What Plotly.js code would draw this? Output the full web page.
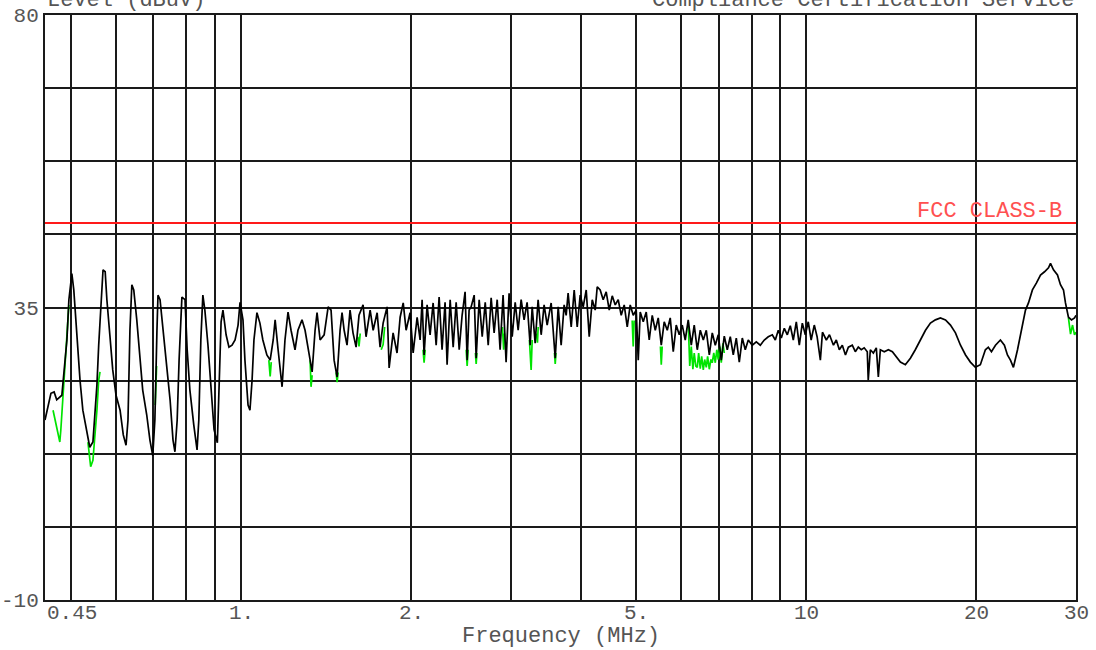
<!DOCTYPE html>
<html>
<head>
<meta charset="utf-8">
<script src="https://cdn.plot.ly/plotly-3.0.1.min.js"></script>
<style>
  html, body { margin: 0; padding: 0; background: #fff; }
  #chart { width: 1096px; height: 650px; }
</style>
</head>
<body>
<div id="chart"></div>
<script>
// Conducted emission scan, 0.45 - 30 MHz (black: main sweep, green: second sweep)
const scanFreq = [
  0.450,0.455,0.461,0.467,0.472,0.482,0.486,0.492,0.496,0.500,0.502,0.506,0.510,0.514,0.519,0.525,0.532,0.536,0.540,0.547,
  0.551,0.556,0.560,0.565,0.570,0.575,0.579,0.586,0.593,0.601,0.611,0.619,0.626,0.631,0.636,0.641,0.646,0.654,0.662,0.670,
  0.681,0.690,0.698,0.704,0.710,0.713,0.719,0.728,0.737,0.749,0.758,0.764,0.771,0.777,0.786,0.796,0.803,0.812,0.825,0.836,
  0.842,0.849,0.856,0.863,0.874,0.886,0.896,0.908,0.915,0.922,0.929,0.941,0.952,0.964,0.976,0.988,0.996,1.008,1.016,1.029,
  1.037,1.046,1.054,1.067,1.080,1.093,1.111,1.126,1.140,1.149,1.163,1.182,1.196,1.211,1.226,1.246,1.261,1.282,1.298,1.314,
  1.336,1.352,1.363,1.380,1.403,1.426,1.443,1.461,1.479,1.497,1.509,1.522,1.540,1.559,1.578,1.598,1.617,1.644,1.664,1.692,
  1.713,1.741,1.762,1.784,1.813,1.828,1.858,1.888,1.912,1.936,1.959,1.991,2.016,2.049,2.074,2.091,2.108,2.134,2.160,2.187,
  2.214,2.241,2.268,2.296,2.315,2.344,2.373,2.402,2.432,2.461,2.491,2.512,2.532,2.553,2.585,2.606,2.638,2.671,2.704,2.737,
  2.770,2.804,2.839,2.873,2.908,2.944,2.980,3.018,3.055,3.092,3.130,3.168,3.207,3.247,3.274,3.314,3.354,3.396,3.437,3.480,
  3.537,3.596,3.640,3.684,3.729,3.760,3.790,3.838,3.885,3.933,3.981,4.030,4.080,4.130,4.181,4.232,4.267,4.319,4.372,4.426,
  4.481,4.536,4.592,4.648,4.705,4.763,4.822,4.881,4.941,5.002,5.043,5.084,5.147,5.210,5.274,5.339,5.405,5.471,5.539,5.606,
  5.676,5.745,5.816,5.887,5.960,6.033,6.107,6.182,6.259,6.335,6.414,6.493,6.573,6.654,6.736,6.818,6.902,6.987,7.073,7.160,
  7.248,7.337,7.427,7.519,7.611,7.705,7.799,7.895,8.025,8.157,8.291,8.427,8.565,8.707,8.814,8.922,9.032,9.143,9.256,9.369,
  9.484,9.601,9.719,9.839,9.960,10.08,10.20,10.33,10.45,10.59,10.68,10.85,10.99,11.17,11.30,11.44,11.58,11.73,11.87,12.06,
  12.21,12.36,12.51,12.66,12.82,12.87,12.98,13.14,13.30,13.41,13.52,13.74,13.97,14.20,14.43,14.67,14.97,15.28,15.59,15.92,
  16.25,16.58,16.92,17.27,17.63,17.99,18.36,18.74,19.13,19.51,19.91,20.32,20.74,20.99,21.26,21.61,22.05,22.41,22.69,22.97,
  23.25,23.64,24.03,24.42,24.72,25.12,25.54,25.96,26.39,26.82,27.04,27.37,27.82,28.16,28.51,28.74,29.09,29.46,29.82,30.00
];
const scanLevel = [
  17.7,19.5,21.8,22.0,20.8,21.5,25.4,30.0,36.2,39.2,40.2,37.7,33.1,29.2,23.8,19.2,16.2,14.6,13.5,14.3,
  17.7,23.1,29.2,36.2,40.8,40.5,36.2,30.8,25.4,21.5,19.2,15.4,13.8,17.7,31.5,38.5,37.7,33.1,27.7,22.3,
  18.5,14.6,12.2,17.7,31.5,36.9,36.2,31.5,26.9,20.8,14.6,12.8,17.7,26.9,36.6,36.2,28.5,22.3,16.9,13.1,
  17.7,30.0,36.9,34.6,29.2,22.3,16.2,14.2,23.8,32.8,34.6,30.8,28.9,29.2,30.0,32.3,35.8,33.1,26.9,20.0,
  19.2,23.8,30.0,34.2,32.6,30.0,27.7,26.9,30.0,33.1,28.5,22.8,30.0,34.3,31.5,28.5,31.5,33.1,31.5,28.9,
  25.1,31.5,34.2,30.0,30.8,35.1,34.6,26.9,24.3,31.5,34.2,31.5,29.2,34.6,31.1,28.9,33.8,35.4,30.5,34.6,
  31.5,34.2,28.9,32.6,35.1,25.7,31.1,28.0,33.5,35.7,31.5,34.2,28.0,33.5,30.0,36.2,27.7,35.4,30.8,35.7,
  29.2,36.6,28.5,35.8,26.2,36.2,28.9,35.8,28.5,33.8,37.4,26.9,34.6,35.1,36.9,27.2,36.2,30.5,35.8,29.2,
  36.5,31.1,36.2,28.5,36.9,26.6,37.2,30.5,35.8,31.5,36.2,33.1,35.8,29.2,35.1,29.5,36.2,30.8,35.4,32.3,
  35.7,27.2,35.1,29.2,35.4,33.8,37.2,32.0,37.7,32.0,36.9,35.1,37.7,30.5,36.2,34.6,38.2,37.7,36.2,37.4,
  34.6,36.8,35.4,36.2,33.8,35.4,32.0,35.4,33.8,34.6,26.9,34.3,32.8,34.3,30.0,33.8,31.5,33.4,29.2,32.8,
  31.5,33.4,28.2,32.3,30.8,32.3,30.0,33.1,29.2,32.3,28.5,31.5,30.0,31.5,27.7,31.1,29.2,30.8,26.9,30.6,
  28.5,30.5,27.7,30.3,26.6,30.3,28.5,30.0,29.2,29.7,29.2,30.0,30.5,30.8,30.0,31.5,30.3,31.8,30.8,32.2,
  30.0,32.8,29.2,32.6,30.8,32.8,30.0,32.3,30.5,26.9,31.2,30.0,30.8,29.2,30.0,28.5,29.2,27.7,28.9,29.2,
  28.2,28.9,28.5,28.8,28.2,23.8,28.5,28.0,28.8,24.3,28.5,28.2,28.5,28.2,27.4,26.6,26.2,27.2,28.5,30.0,
  31.5,32.6,33.1,33.4,33.1,32.3,31.1,29.2,27.7,26.6,25.8,26.2,28.5,28.9,28.2,29.2,30.0,29.2,27.7,26.9,
  25.8,28.5,31.5,34.6,35.7,37.7,38.8,40.0,40.5,41.1,41.8,40.8,40.0,38.5,37.7,35.7,33.5,33.1,33.4,33.8
];

// Second sweep: only the stretches where it falls below the main sweep (null = gap)
const scan2Freq = [
  0.465,0.468,0.472,0.476,0.478,0.480,0.484,0.488,0.492,0.496,null,
  0.536,0.540,0.542,0.547,0.551,0.556,0.560,0.563,null,
  0.705,0.707,0.709,null,
  1.120,1.126,1.131,null,
  1.325,1.330,1.336,null,
  1.473,1.479,1.485,null,
  1.610,1.617,1.625,null,
  1.770,1.784,1.795,null,
  2.099,2.108,2.117,null,
  2.502,2.512,2.522,null,
  2.598,2.606,2.614,null,
  2.900,2.915,2.925,null,
  3.237,3.260,3.274,null,
  3.330,3.345,3.355,null,
  3.585,3.596,3.607,null,
  4.920,4.941,4.960,null,
  5.520,5.539,5.560,null,
  6.182,6.220,6.259,6.300,6.335,6.375,6.414,6.450,6.493,6.530,6.573,6.610,6.654,6.690,6.736,6.780,6.818,6.860,6.902,6.945,6.987,7.030,7.073,7.120,7.160,null,
  29.09,29.34,29.58,29.82,30.00
];
const scan2Level = [
  19.2,18.0,16.9,14.9,14.3,16.2,21.5,26.9,31.5,35.4,null,
  14.3,12.3,10.5,11.5,14.6,19.2,23.8,25.1,null,
  20.0,23.0,26.0,null,
  26.9,24.4,26.6,null,
  26.9,22.8,24.6,null,
  25.0,23.5,25.0,null,
  30.5,29.0,31.0,null,
  28.5,29.3,32.0,null,
  28.5,26.5,28.5,null,
  28.5,26.0,28.5,null,
  28.0,26.3,28.0,null,
  32.0,28.5,31.0,null,
  30.0,25.4,30.0,null,
  31.0,29.6,32.0,null,
  28.0,26.3,28.0,null,
  33.0,29.0,33.0,null,
  29.0,26.2,29.0,null,
  32.8,26.0,29.0,25.5,28.0,26.0,25.8,28.0,25.6,27.5,25.4,27.0,25.8,27.5,25.5,27.0,26.5,28.0,26.5,28.5,27.0,29.0,26.5,29.5,28.0,null,
  33.4,30.9,32.3,30.8,31.2
];

// FCC Class B limit
const limitFreq = [0.45, 30];
const limitLevel = [48, 48];
const limitName = 'FCC CLASS-B';

// Axis grid and labels
const freqGrid = [0.5, 0.6, 0.7, 0.8, 0.9, 1, 2, 3, 4, 5, 6, 7, 8, 9, 10, 20];
const freqLabelVals = [0.45, 1, 2, 5, 10, 20, 30];
const freqLabelText = ['0.45', '1.', '2.', '5.', '10', '20', '30'];
const levelGrid = [-10, 1.25, 12.5, 23.75, 35, 46.25, 57.5, 68.75, 80];
const levelGridText = ['-10', '', '', '', '35', '', '', '', '80'];

const FONT = '"Courier New", Courier, "Nimbus Mono PS", "Liberation Mono", monospace';
const TEXT_GRAY = '#555';
const GRID = '#1a1a1a';

const traces = [
  {
    x: scan2Freq, y: scan2Level, type: 'scatter', mode: 'lines',
    line: { color: '#00e400', width: 1.7 }, connectgaps: false, hoverinfo: 'skip'
  },
  {
    x: scanFreq, y: scanLevel, type: 'scatter', mode: 'lines',
    line: { color: '#000', width: 1.7 }, hoverinfo: 'skip'
  },
  {
    x: limitFreq, y: limitLevel, type: 'scatter', mode: 'lines',
    line: { color: '#ff1a1a', width: 2 }, hoverinfo: 'skip'
  }
];

const annotations = freqLabelVals.map((v, i) => ({
  x: Math.log10(v), xref: 'x', y: 0, yref: 'paper',
  xanchor: i === 0 ? 'left' : 'center', yanchor: 'top', yshift: 0,
  text: freqLabelText[i], showarrow: false,
  font: { family: FONT, size: 21, color: TEXT_GRAY }
}));

annotations.push(
  {
    x: 0, xref: 'paper', y: 1, yref: 'paper', xanchor: 'left', yanchor: 'bottom', yshift: 0,
    text: 'Level (dBuV)', showarrow: false,
    font: { family: FONT, size: 22, color: TEXT_GRAY }
  },
  {
    x: 1, xref: 'paper', y: 1, yref: 'paper', xanchor: 'right', yanchor: 'bottom', yshift: 0,
    text: 'Compliance Certification Service', showarrow: false,
    font: { family: FONT, size: 22, color: TEXT_GRAY }
  },
  {
    x: 0.5, xref: 'paper', y: 0, yref: 'paper', xanchor: 'center', yanchor: 'middle', yshift: -36,
    text: 'Frequency (MHz)', showarrow: false,
    font: { family: FONT, size: 22, color: TEXT_GRAY }
  },
  {
    x: 1, xref: 'paper', y: limitLevel[1], yref: 'y', xanchor: 'right', yanchor: 'middle',
    xshift: -12, yshift: 12,
    text: limitName, showarrow: false,
    font: { family: FONT, size: 22, color: '#ff5050' }
  }
);

const layout = {
  width: 1096, height: 650,
  margin: { l: 45, r: 20, t: 15, b: 50, pad: 0 },
  paper_bgcolor: '#fff', plot_bgcolor: '#fff',
  showlegend: false,
  xaxis: {
    type: 'log',
    range: [Math.log10(0.45), Math.log10(30)],
    tickmode: 'array', tickvals: freqGrid, showticklabels: false,
    ticks: '', showgrid: true, gridcolor: GRID, gridwidth: 2,
    showline: true, mirror: true, linecolor: GRID, linewidth: 2,
    zeroline: false, automargin: false
  },
  yaxis: {
    range: [-10, 80],
    tickmode: 'array', tickvals: levelGrid, ticktext: levelGridText,
    tickfont: { family: FONT, size: 21, color: TEXT_GRAY },
    ticks: '', ticklabelstandoff: 0,
    showgrid: true, gridcolor: GRID, gridwidth: 2,
    showline: true, mirror: true, linecolor: GRID, linewidth: 2,
    zeroline: false, automargin: false
  },
  annotations: annotations
};

Plotly.newPlot('chart', traces, layout, { staticPlot: true, displayModeBar: false });
</script>
</body>
</html>
